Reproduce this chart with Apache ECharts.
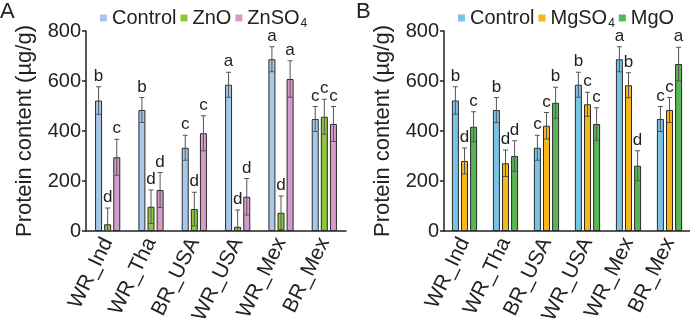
<!DOCTYPE html>
<html><head><meta charset="utf-8">
<script src="https://cdn.jsdelivr.net/npm/echarts@6/dist/echarts.min.js"></script>
<style>html,body{margin:0;padding:0;background:#fff}#c{width:690px;height:323px}</style>
</head><body><div id="c"></div>
<script>
const categories = ['WR_Ind', 'WR_Tha', 'BR_USA', 'WR_USA', 'WR_Mex', 'BR_Mex'];
const tickValues = [0, 200, 400, 600, 800];

const control = [522, 484, 333, 585, 687, 448];
const controlErr = [55, 50, 50, 50, 50, 50];
const znO = [27, 97, 88, 17, 73, 457];
const znOErr = [65, 67, 67, 67, 67, 70];
const znSO4 = [295, 164, 391, 137, 608, 428];
const znSO4Err = [72, 70, 70, 73, 73, 70];
const mgSO4 = [280, 271, 421, 507, 583, 484];
const mgSO4Err = [52, 53, 53, 48, 50, 50];
const mgO = [417, 300, 513, 428, 261, 668];
const mgOErr = [60, 61, 62, 65, 60, 67];

const lettersControlA = ['b', 'b', 'c', 'a', 'a', 'c'];
const lettersZnO = ['d', 'd', 'd', 'd', 'd', 'c'];
const lettersZnSO4 = ['c', 'd', 'c', 'd', 'a', 'c'];
const lettersControlB = ['b', 'b', 'c', 'b', 'a', 'c'];
const lettersMgSO4 = ['d', 'd', 'c', 'c', 'b', 'c'];
const lettersMgO = ['c', 'd', 'b', 'c', 'd', 'a'];

const FONT = '"Liberation Sans", Arial, Helvetica, sans-serif';
const BW = 7, GAP = 0.3, PITCH = BW * (1 + GAP);
const chart = echarts.init(document.getElementById('c'));

function barSeries(name, gi, vals, color) {
  return {
    type: 'bar', name: name, xAxisIndex: gi, yAxisIndex: gi, data: vals,
    barWidth: BW, barGap: (GAP * 100) + '%',
    itemStyle: {color: color, borderColor: '#2b2b2b', borderWidth: 1}
  };
}
function errSeries(gi, slot, vals, errs, letters) {
  return {
    type: 'custom', xAxisIndex: gi, yAxisIndex: gi, z: 5,
    data: vals.map((v, i) => [i, v, errs[i]]),
    encode: {x: 0, y: 1},
    renderItem: function (params, api) {
      const i = api.value(0), v = api.value(1), e = api.value(2);
      const c = api.coord([i, v]);
      const x = c[0] + (slot - 1) * PITCH;
      const top = api.coord([i, v + e])[1];
      const bot = api.coord([i, Math.max(0, v - e)])[1];
      const cap = 2.5;
      const st = {stroke: '#555', lineWidth: 1};
      return {type: 'group', children: [
        {type: 'line', shape: {x1: x, y1: top, x2: x, y2: bot}, style: st},
        {type: 'line', shape: {x1: x - cap, y1: top, x2: x + cap, y2: top}, style: st},
        {type: 'line', shape: {x1: x - cap, y1: bot, x2: x + cap, y2: bot}, style: st},
        {type: 'text', style: {text: letters[params.dataIndex], x: x, y: top - 2,
          align: 'center', verticalAlign: 'bottom', fontSize: 17, fontFamily: FONT, fill: '#222'}}
      ]};
    }
  };
}
function xAxis(gi) {
  return {
    type: 'category', gridIndex: gi, data: categories,
    axisLine: {lineStyle: {color: '#222', width: 1.5}},
    axisTick: {show: false},
    axisLabel: {rotate: 64, interval: 0, fontSize: 21, color: '#222', margin: 8, fontFamily: FONT}
  };
}
function yAxis(gi) {
  return {
    type: 'value', gridIndex: gi, min: tickValues[0], max: tickValues[tickValues.length - 1], interval: 200,
    splitLine: {show: false},
    axisLine: {show: true, lineStyle: {color: '#222', width: 1.5}},
    axisTick: {show: true, length: 4, lineStyle: {color: '#222', width: 1.5}},
    axisLabel: {fontSize: 20, color: '#222', margin: 5, fontFamily: FONT},
    name: 'Protein content (µg/g)', nameLocation: 'middle', nameGap: 50,
    nameTextStyle: {fontSize: 22, color: '#222', fontFamily: FONT}
  };
}
const rich = {
  n: {fontSize: 20, color: '#222', fontFamily: FONT},
  s: {fontSize: 12, color: '#222', fontFamily: FONT, padding: [12, 0, 0, 1]}
};
function legendFmt(name) {
  if (name === 'ZnSO4') return '{n|ZnSO}{s|4}';
  if (name === 'MgSO4') return '{n|MgSO}{s|4}';
  if (name === 'ControlB') return '{n|Control}';
  return '{n|' + name + '}';
}
function legend(left, names) {
  return {
    left: left, top: 3, data: names, icon: 'rect', itemWidth: 7, itemHeight: 7, itemGap: 4,
    itemStyle: {borderWidth: 0}, formatter: legendFmt, selectedMode: false,
    textStyle: {fontSize: 20, color: '#222', fontFamily: FONT, rich: rich}
  };
}

chart.setOption({
  animation: false,
  grid: [
    {left: 86, top: 31, width: 260, height: 200, outerBoundsMode: 'none', containLabel: false},
    {left: 444, top: 31, width: 246, height: 200, outerBoundsMode: 'none', containLabel: false}
  ],
  xAxis: [xAxis(0), xAxis(1)],
  yAxis: [yAxis(0), yAxis(1)],
  legend: [legend(95, ['Control', 'ZnO', 'ZnSO4']), legend(453, ['ControlB', 'MgSO4', 'MgO'])],
  graphic: [
    {type: 'text', left: 0, top: 1, style: {text: 'A', fontSize: 22, fill: '#222', fontFamily: FONT}},
    {type: 'text', left: 356, top: 1, style: {text: 'B', fontSize: 22, fill: '#222', fontFamily: FONT}}
  ],
  series: [
    barSeries('Control', 0, control, '#a6c8ea'),
    barSeries('ZnO', 0, znO, '#8cc63f'),
    barSeries('ZnSO4', 0, znSO4, '#d79bc9'),
    barSeries('ControlB', 1, control, '#78c4e4'),
    barSeries('MgSO4', 1, mgSO4, '#f7b718'),
    barSeries('MgO', 1, mgO, '#58b654'),
    errSeries(0, 0, control, controlErr, lettersControlA),
    errSeries(0, 1, znO, znOErr, lettersZnO),
    errSeries(0, 2, znSO4, znSO4Err, lettersZnSO4),
    errSeries(1, 0, control, controlErr, lettersControlB),
    errSeries(1, 1, mgSO4, mgSO4Err, lettersMgSO4),
    errSeries(1, 2, mgO, mgOErr, lettersMgO)
  ]
});
</script></body></html>
